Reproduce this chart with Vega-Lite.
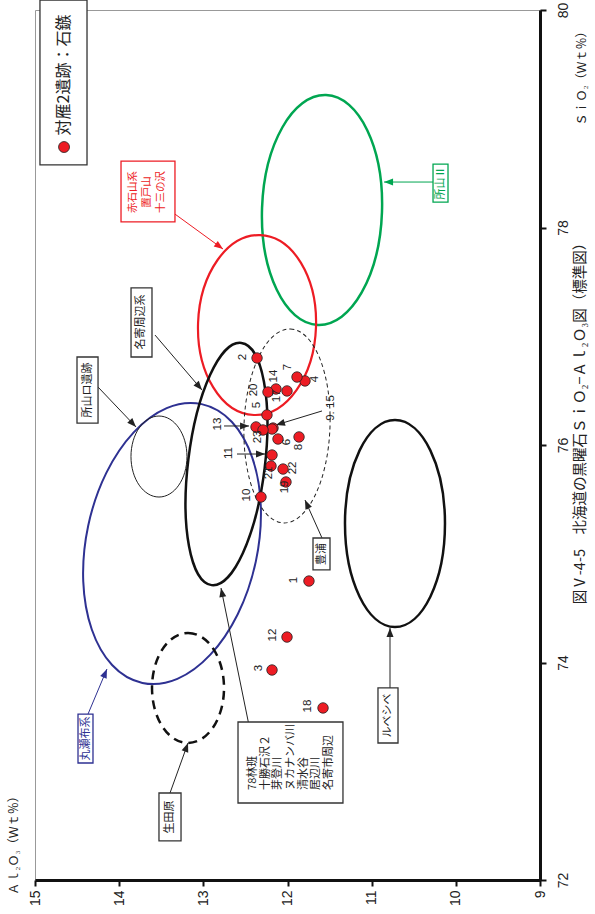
{
  "$schema": "https://vega.github.io/schema/vega-lite/v6.json",
  "width": 505,
  "height": 870,
  "autosize": {"type": "none"},
  "padding": {"left": 35, "top": 10, "right": 55, "bottom": 34},
  "background": "white",
  "title": {
    "text": "図Ⅴ-4-5　北海道の黒曜石ＳｉＯ₂−Ａｌ₂Ｏ₃図（標準図）",
    "orient": "right",
    "anchor": "middle",
    "angle": 270,
    "baseline": "middle",
    "offset": -21,
    "dx": 25,
    "fontSize": 14.5,
    "font": "Noto Sans CJK JP",
    "fontWeight": "normal",
    "color": "#222"
  },
  "datasets": {
    "points": [
      {"id": "1", "Al": 11.745, "Si": 74.749},
      {"id": "2", "Al": 12.362, "Si": 76.800},
      {"id": "3", "Al": 12.184, "Si": 73.931},
      {"id": "4", "Al": 11.792, "Si": 76.589},
      {"id": "5", "Al": 12.244, "Si": 76.276},
      {"id": "6", "Al": 12.113, "Si": 76.055},
      {"id": "7", "Al": 11.887, "Si": 76.625},
      {"id": "8", "Al": 11.863, "Si": 76.074},
      {"id": "9", "Al": 12.172, "Si": 76.156},
      {"id": "10", "Al": 12.315, "Si": 75.522},
      {"id": "11", "Al": 12.184, "Si": 75.908},
      {"id": "12", "Al": 12.006, "Si": 74.234},
      {"id": "13", "Al": 12.374, "Si": 76.166},
      {"id": "14", "Al": 12.137, "Si": 76.515},
      {"id": "15", "Al": 12.184, "Si": 76.147},
      {"id": "17", "Al": 12.006, "Si": 76.497},
      {"id": "18", "Al": 11.578, "Si": 73.582},
      {"id": "19", "Al": 12.018, "Si": 75.660},
      {"id": "20", "Al": 12.232, "Si": 76.487},
      {"id": "21", "Al": 12.196, "Si": 75.807},
      {"id": "22", "Al": 12.053, "Si": 75.779},
      {"id": "23", "Al": 12.291, "Si": 76.138}
    ],
    "labels": [
      {"text": "2", "Al": 12.529, "Si": 76.809},
      {"text": "7", "Al": 11.994, "Si": 76.717},
      {"text": "4", "Al": 11.673, "Si": 76.607},
      {"text": "14", "Al": 12.160, "Si": 76.634},
      {"text": "20", "Al": 12.398, "Si": 76.506},
      {"text": "17", "Al": 12.125, "Si": 76.451},
      {"text": "5", "Al": 12.362, "Si": 76.368},
      {"text": "13", "Al": 12.826, "Si": 76.193},
      {"text": "23", "Al": 12.351, "Si": 76.074},
      {"text": "6", "Al": 12.006, "Si": 76.028},
      {"text": "8", "Al": 11.863, "Si": 75.982},
      {"text": "11", "Al": 12.695, "Si": 75.926},
      {"text": "21", "Al": 12.220, "Si": 75.743},
      {"text": "22", "Al": 11.935, "Si": 75.789},
      {"text": "19", "Al": 12.030, "Si": 75.614},
      {"text": "10", "Al": 12.481, "Si": 75.540},
      {"text": "1", "Al": 11.923, "Si": 74.759},
      {"text": "12", "Al": 12.172, "Si": 74.253},
      {"text": "3", "Al": 12.339, "Si": 73.949},
      {"text": "18", "Al": 11.756, "Si": 73.600},
      {"text": "9. 15", "Al": 11.483, "Si": 76.340}
    ],
    "ellipses": [
      {"name": "所山Ⅱ", "Al": 11.590, "Si": 78.161},
      {"name": "赤石山系", "Al": 12.362, "Si": 77.103},
      {"name": "名寄周辺系", "Al": 12.725, "Si": 75.825},
      {"name": "丸瀬布系", "Al": 13.372, "Si": 75.094},
      {"name": "所山ロ遺跡", "Al": 13.527, "Si": 75.894},
      {"name": "豊浦", "Al": 12.006, "Si": 76.175},
      {"name": "ルベシベ", "Al": 10.723, "Si": 75.278},
      {"name": "生田原", "Al": 13.182, "Si": 73.766}
    ],
    "arrows": [
      {"group": "赤石山系", "Al": 13.372, "Si": 78.143, "Al2": 12.766, "Si2": 77.802, "angle": 126},
      {"group": "所山Ⅱ", "Al": 10.271, "Si": 78.418, "Al2": 10.853, "Si2": 78.418, "angle": 270},
      {"group": "名寄周辺系", "Al": 13.574, "Si": 77.011, "Al2": 13.016, "Si2": 76.506, "angle": 139.5},
      {"group": "所山ロ遺跡", "Al": 14.251, "Si": 76.533, "Al2": 13.800, "Si2": 76.166, "angle": 136.5},
      {"group": "豊浦", "Al": 11.590, "Si": 75.145, "Al2": 11.792, "Si2": 75.494, "angle": 336},
      {"group": "ルベシベ", "Al": 10.782, "Si": 73.766, "Al2": 10.782, "Si2": 74.317, "angle": 0},
      {"group": "78林班", "Al": 12.434, "Si": 73.333, "Al2": 12.790, "Si2": 74.685, "angle": 348.5},
      {"group": "生田原", "Al": 13.396, "Si": 72.800, "Al2": 13.182, "Si2": 73.260, "angle": 20},
      {"group": "丸瀬布系", "Al": 14.370, "Si": 73.526, "Al2": 14.145, "Si2": 73.940, "angle": 23},
      {"group": "13", "Al": 12.754, "Si": 76.175, "Al2": 12.457, "Si2": 76.175, "angle": 90},
      {"group": "11", "Al": 12.600, "Si": 75.917, "Al2": 12.267, "Si2": 75.917, "angle": 90},
      {"group": "9. 15", "Al": 11.590, "Si": 76.313, "Al2": 12.137, "Si2": 76.184, "angle": 253}
    ],
    "boxes": [
      {"group": "対雁2遺跡", "Al": 14.941, "Si": 80.092, "Al2": 14.382, "Si2": 78.575},
      {"group": "赤石山系", "Al": 13.978, "Si": 78.611, "Al2": 13.337, "Si2": 78.051},
      {"group": "所山Ⅱ", "Al": 10.271, "Si": 78.583, "Al2": 10.093, "Si2": 78.234},
      {"group": "名寄周辺系", "Al": 13.859, "Si": 77.444, "Al2": 13.610, "Si2": 76.809},
      {"group": "所山ロ遺跡", "Al": 14.501, "Si": 76.809, "Al2": 14.251, "Si2": 76.202},
      {"group": "豊浦", "Al": 11.697, "Si": 75.145, "Al2": 11.495, "Si2": 74.851},
      {"group": "ルベシベ", "Al": 10.925, "Si": 73.766, "Al2": 10.687, "Si2": 73.260},
      {"group": "78林班", "Al": 12.588, "Si": 73.453, "Al2": 11.341, "Si2": 72.708},
      {"group": "生田原", "Al": 13.527, "Si": 72.800, "Al2": 13.265, "Si2": 72.359},
      {"group": "丸瀬布系", "Al": 14.489, "Si": 73.526, "Al2": 14.311, "Si2": 73.076}
    ],
    "boxtexts": [
      {"group": "所山Ⅱ", "text": "所山Ⅱ", "Al": 10.176, "Si": 78.409},
      {"group": "名寄周辺系", "text": "名寄周辺系", "Al": 13.741, "Si": 77.131},
      {"group": "所山ロ遺跡", "text": "所山ロ遺跡", "Al": 14.376, "Si": 76.506},
      {"group": "豊浦", "text": "豊浦", "Al": 11.596, "Si": 74.998},
      {"group": "ルベシベ", "text": "ルベシベ", "Al": 10.806, "Si": 73.513},
      {"group": "生田原", "text": "生田原", "Al": 13.396, "Si": 72.579},
      {"group": "丸瀬布系", "text": "丸瀬布系", "Al": 14.400, "Si": 73.301}
    ],
    "redtext": [
      {"group": "赤石山系", "text": "赤石山系\n置戸山\n十三の沢", "Al": 13.836, "Si": 78.326}
    ],
    "listtext": [
      {"group": "78林班", "text": "78林班\n十勝石沢２\n芽登川\nヌカナンバ川\n清水谷\n居辺川\n名寄市周辺", "Al": 12.410, "Si": 72.828}
    ],
    "legend": [
      {"item": "symbol", "text": "", "Al": 14.655, "Si": 78.740},
      {"item": "label", "text": "対雁2遺跡：石鏃", "Al": 14.655, "Si": 79.402}
    ]
  },
  "encoding": {
    "x": {
      "field": "Al",
      "type": "quantitative",
      "scale": {"domain": [9, 15], "reverse": true, "nice": false, "zero": false},
      "axis": {
        "orient": "bottom",
        "values": [9, 10, 11, 12, 13, 14, 15],
        "grid": false,
        "labelAngle": 270,
        "labelAlign": "right",
        "labelBaseline": "middle",
        "labelFont": "Liberation Sans Narrow, Liberation Sans",
        "labelFontSize": 14,
        "labelColor": "#222",
        "labelPadding": 4,
        "labelFlush": false,
        "labelOverlap": false,
        "tickSize": 6,
        "tickWidth": 2,
        "tickColor": "#111",
        "domainWidth": 3,
        "domainColor": "#111",
        "title": "Ａｌ₂Ｏ₃（Ｗｔ％）",
        "titleFont": "Noto Sans CJK JP",
        "titleFontSize": 12,
        "titleFontWeight": "normal",
        "titleColor": "#222",
        "titleAngle": 270,
        "titleAlign": "center",
        "titleBaseline": "middle",
        "titleX": -22,
        "titleY": -38
      }
    },
    "y": {
      "field": "Si",
      "type": "quantitative",
      "scale": {"domain": [72, 80], "nice": false, "zero": false},
      "axis": {
        "orient": "right",
        "values": [72, 74, 76, 78, 80],
        "grid": false,
        "labelAngle": 270,
        "labelAlign": "center",
        "labelBaseline": "top",
        "labelFont": "Liberation Sans Narrow, Liberation Sans",
        "labelFontSize": 14,
        "labelColor": "#222",
        "labelPadding": 10,
        "labelFlush": false,
        "labelOverlap": false,
        "tickSize": 6,
        "tickWidth": 2,
        "tickColor": "#111",
        "domainWidth": 3,
        "domainColor": "#111",
        "title": "ＳｉＯ₂（Ｗｔ％）",
        "titleFont": "Noto Sans CJK JP",
        "titleFontSize": 12,
        "titleFontWeight": "normal",
        "titleColor": "#222",
        "titleAngle": 270,
        "titleAlign": "center",
        "titleBaseline": "middle",
        "titleX": 41,
        "titleY": 65
      }
    }
  },
  "layer": [
    {
      "data": {"name": "ellipses"},
      "transform": [{"filter": "datum.name === '所山Ⅱ'"}],
      "mark": {"type": "point", "shape": "M0,-115C33.14,-115,60,-63.51,60,0C60,63.51,33.14,115,0,115C-33.14,115,-60,63.51,-60,0C-60,-63.51,-33.14,-115,0,-115Z", "size": 4, "angle": 2, "filled": false, "stroke": "#00a651", "strokeWidth": 2.5, "opacity": 1}
    },
    {
      "data": {"name": "ellipses"},
      "transform": [{"filter": "datum.name === '赤石山系'"}],
      "mark": {"type": "point", "shape": "M0,-90C32.59,-90,59,-49.71,59,0C59,49.71,32.59,90,0,90C-32.59,90,-59,49.71,-59,0C-59,-49.71,-32.59,-90,0,-90Z", "size": 4, "angle": 2, "filled": false, "stroke": "#ed1c24", "strokeWidth": 2.2, "opacity": 1}
    },
    {
      "data": {"name": "ellipses"},
      "transform": [{"filter": "datum.name === '丸瀬布系'"}],
      "mark": {"type": "point", "shape": "M0,-142.5C47.33,-142.5,85.7,-78.7,85.7,0C85.7,78.7,47.33,142.5,0,142.5C-47.33,142.5,-85.7,78.7,-85.7,0C-85.7,-78.7,-47.33,-142.5,0,-142.5Z", "size": 4, "angle": 12, "filled": false, "stroke": "#2e3192", "strokeWidth": 2, "opacity": 1}
    },
    {
      "data": {"name": "ellipses"},
      "transform": [{"filter": "datum.name === '所山ロ遺跡'"}],
      "mark": {"type": "point", "shape": "M0,-40.5C15.46,-40.5,28,-22.37,28,0C28,22.37,15.46,40.5,0,40.5C-15.46,40.5,-28,22.37,-28,0C-28,-22.37,-15.46,-40.5,0,-40.5Z", "size": 4, "angle": 0, "filled": false, "stroke": "#222", "strokeWidth": 1, "opacity": 1}
    },
    {
      "data": {"name": "ellipses"},
      "transform": [{"filter": "datum.name === '豊浦'"}],
      "mark": {"type": "point", "shape": "M0,-97C23.75,-97,43,-53.57,43,0C43,53.57,23.75,97,0,97C-23.75,97,-43,53.57,-43,0C-43,-53.57,-23.75,-97,0,-97Z", "size": 4, "angle": 2, "filled": false, "stroke": "#222", "strokeWidth": 1, "strokeDash": [4, 3], "opacity": 1}
    },
    {
      "data": {"name": "ellipses"},
      "transform": [{"filter": "datum.name === '名寄周辺系'"}],
      "mark": {"type": "point", "shape": "M0,-122C21.21,-122,38.4,-67.38,38.4,0C38.4,67.38,21.21,122,0,122C-21.21,122,-38.4,67.38,-38.4,0C-38.4,-67.38,-21.21,-122,0,-122Z", "size": 4, "angle": 7, "filled": false, "stroke": "#111", "strokeWidth": 2.5, "opacity": 1}
    },
    {
      "data": {"name": "ellipses"},
      "transform": [{"filter": "datum.name === 'ルベシベ'"}],
      "mark": {"type": "point", "shape": "M0,-103.5C27.62,-103.5,50,-57.16,50,0C50,57.16,27.62,103.5,0,103.5C-27.62,103.5,-50,57.16,-50,0C-50,-57.16,-27.62,-103.5,0,-103.5Z", "size": 4, "angle": 0, "filled": false, "stroke": "#111", "strokeWidth": 2.5, "opacity": 1}
    },
    {
      "data": {"name": "ellipses"},
      "transform": [{"filter": "datum.name === '生田原'"}],
      "mark": {"type": "point", "shape": "M0,-55C19.88,-55,36,-30.38,36,0C36,30.38,19.88,55,0,55C-19.88,55,-36,30.38,-36,0C-36,-30.38,-19.88,-55,0,-55Z", "size": 4, "angle": 0, "filled": false, "stroke": "#111", "strokeWidth": 2.5, "strokeDash": [9, 6], "opacity": 1}
    },
    {
      "data": {"name": "arrows"},
      "mark": {"type": "rule", "strokeWidth": 1},
      "encoding": {
        "x2": {"field": "Al2"},
        "y2": {"field": "Si2"},
        "color": {
          "condition": [
            {"test": "datum.group === '赤石山系'", "value": "#ed1c24"},
            {"test": "datum.group === '所山Ⅱ'", "value": "#00a651"},
            {"test": "datum.group === '丸瀬布系'", "value": "#2e3192"}
          ],
          "value": "#222"
        }
      }
    },
    {
      "data": {"name": "arrows"},
      "mark": {"type": "point", "shape": "M0,0L-3.5,9L3.5,9Z", "size": 4, "filled": true, "opacity": 1, "strokeWidth": 0},
      "encoding": {
        "x": {"field": "Al2", "type": "quantitative"},
        "y": {"field": "Si2", "type": "quantitative"},
        "angle": {"field": "angle", "type": "quantitative", "scale": null},
        "color": {
          "condition": [
            {"test": "datum.group === '赤石山系'", "value": "#ed1c24"},
            {"test": "datum.group === '所山Ⅱ'", "value": "#00a651"},
            {"test": "datum.group === '丸瀬布系'", "value": "#2e3192"}
          ],
          "value": "#222"
        }
      }
    },
    {
      "data": {"name": "boxes"},
      "mark": {"type": "rect", "fill": "white", "strokeWidth": 1.3},
      "encoding": {
        "x2": {"field": "Al2"},
        "y2": {"field": "Si2"},
        "stroke": {
          "condition": [
            {"test": "datum.group === '赤石山系'", "value": "#ed1c24"},
            {"test": "datum.group === '所山Ⅱ'", "value": "#00a651"},
            {"test": "datum.group === '丸瀬布系'", "value": "#2e3192"}
          ],
          "value": "#333"
        }
      }
    },
    {
      "data": {"name": "boxtexts"},
      "mark": {"type": "text", "angle": 270, "align": "center", "baseline": "middle", "font": "Noto Sans CJK JP", "fontSize": 11},
      "encoding": {
        "text": {"field": "text"},
        "color": {
          "condition": [
            {"test": "datum.group === '所山Ⅱ'", "value": "#00a651"},
            {"test": "datum.group === '丸瀬布系'", "value": "#2e3192"}
          ],
          "value": "#222"
        }
      }
    },
    {
      "data": {"name": "redtext"},
      "mark": {"type": "text", "angle": 270, "align": "center", "baseline": "middle", "font": "Noto Sans CJK JP", "fontSize": 10.5, "lineBreak": "\n", "lineHeight": 14, "color": "#ed1c24"},
      "encoding": {"text": {"field": "text"}}
    },
    {
      "data": {"name": "listtext"},
      "mark": {"type": "text", "angle": 270, "align": "left", "baseline": "middle", "font": "Noto Sans CJK JP", "fontSize": 11, "lineBreak": "\n", "lineHeight": 12.7, "color": "#222"},
      "encoding": {"text": {"field": "text"}}
    },
    {
      "data": {"name": "legend"},
      "transform": [{"filter": "datum.item === 'symbol'"}],
      "mark": {"type": "point", "shape": "circle", "size": 120, "filled": true, "fill": "#ed1c24", "stroke": "#222", "strokeWidth": 0.8, "opacity": 1}
    },
    {
      "data": {"name": "legend"},
      "transform": [{"filter": "datum.item === 'label'"}],
      "mark": {"type": "text", "angle": 270, "align": "center", "baseline": "middle", "font": "Noto Sans CJK JP", "fontSize": 16, "color": "#222"},
      "encoding": {"text": {"field": "text"}}
    },
    {
      "data": {"name": "points"},
      "mark": {"type": "point", "shape": "circle", "size": 110, "filled": true, "fill": "#ed1c24", "stroke": "#222", "strokeWidth": 0.8, "opacity": 1}
    },
    {
      "data": {"name": "labels"},
      "mark": {"type": "text", "angle": 270, "align": "center", "baseline": "middle", "font": "Liberation Sans Narrow, Liberation Sans", "fontSize": 11.5, "color": "#222"},
      "encoding": {"text": {"field": "text"}}
    }
  ],
  "config": {
    "view": {"stroke": "#999", "strokeWidth": 1},
    "font": "Liberation Sans"
  }
}
